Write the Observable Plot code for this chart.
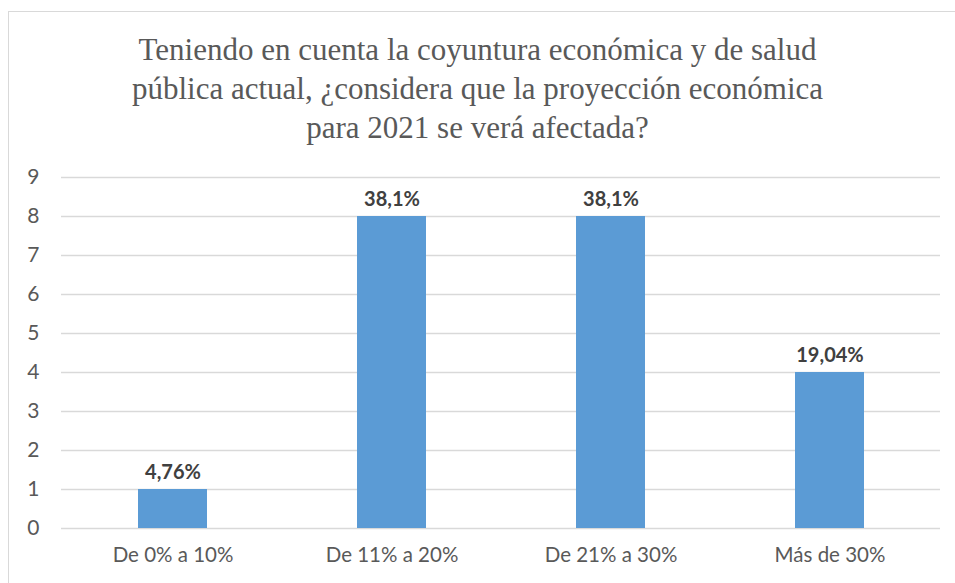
<!DOCTYPE html>
<html>
<head>
<meta charset="utf-8">
<script src="https://cdn.jsdelivr.net/npm/d3@7"></script>
<script src="https://cdn.jsdelivr.net/npm/@observablehq/plot@0.6"></script>
<style>
  html, body { margin: 0; padding: 0; background: #fff; }
  #wrap { position: relative; width: 955px; height: 583px; overflow: hidden; }
  #frame { position: absolute; left: 8px; top: 11px; width: 1000px; height: 700px; border: 1.5px solid #d9d9d9; box-sizing: border-box; }
  #title { position: absolute; left: 0; top: 30px; width: 955px; text-align: center;
    font-family: "Liberation Serif", "Times New Roman", serif; font-size: 31px; line-height: 39px; color: #595959; }
  #chart { position: absolute; left: 0; top: 155px; }
</style>
</head>
<body>
<div id="wrap">
  <div id="frame"></div>
  <div id="title">Teniendo en cuenta la coyuntura económica y de salud<br>pública actual, ¿considera que la proyección económica<br>para 2021 se verá afectada?</div>
  <div id="chart"></div>
</div>
<script>
const categories = ["De 0% a 10%", "De 11% a 20%", "De 21% a 30%", "Más de 30%"];
const counts = [1, 8, 8, 4];
const percentLabels = ["4,76%", "38,1%", "38,1%", "19,04%"];
const yTicks = [0, 1, 2, 3, 4, 5, 6, 7, 8, 9];

const data = categories.map((c, i) => ({category: c, value: counts[i], label: percentLabels[i]}));
const font = "Lato, 'Open Sans', sans-serif";

const chart = Plot.plot({
  width: 955,
  height: 428,
  marginTop: 22,
  marginBottom: 55,
  marginLeft: 61,
  marginRight: 15,
  style: {fontFamily: font, fontSize: "21px", color: "#595959", background: "transparent"},
  x: {domain: categories, paddingInner: 0.686, paddingOuter: 0.343, align: 0.5, label: null},
  y: {domain: [0, 9], ticks: yTicks, label: null},
  marks: [
    Plot.gridY(yTicks, {stroke: "#d9d9d9", strokeOpacity: 1, strokeWidth: 1.5}),
    Plot.barY(data, {x: "category", y: "value", fill: "#5b9bd5"}),
    Plot.text(data, {x: "category", y: "value", text: "label", dy: -17, fill: "#404040",
      fontWeight: "bold", fontSize: 20, fontFamily: font}),
    Plot.axisY(yTicks, {tickSize: 0, tickPadding: 22, fontSize: 21, fill: "#595959", label: null}),
    Plot.axisX({tickSize: 0, tickPadding: 19, fontSize: 20.5, fill: "#595959", label: null})
  ]
});
document.getElementById("chart").appendChild(chart);
</script>
</body>
</html>
